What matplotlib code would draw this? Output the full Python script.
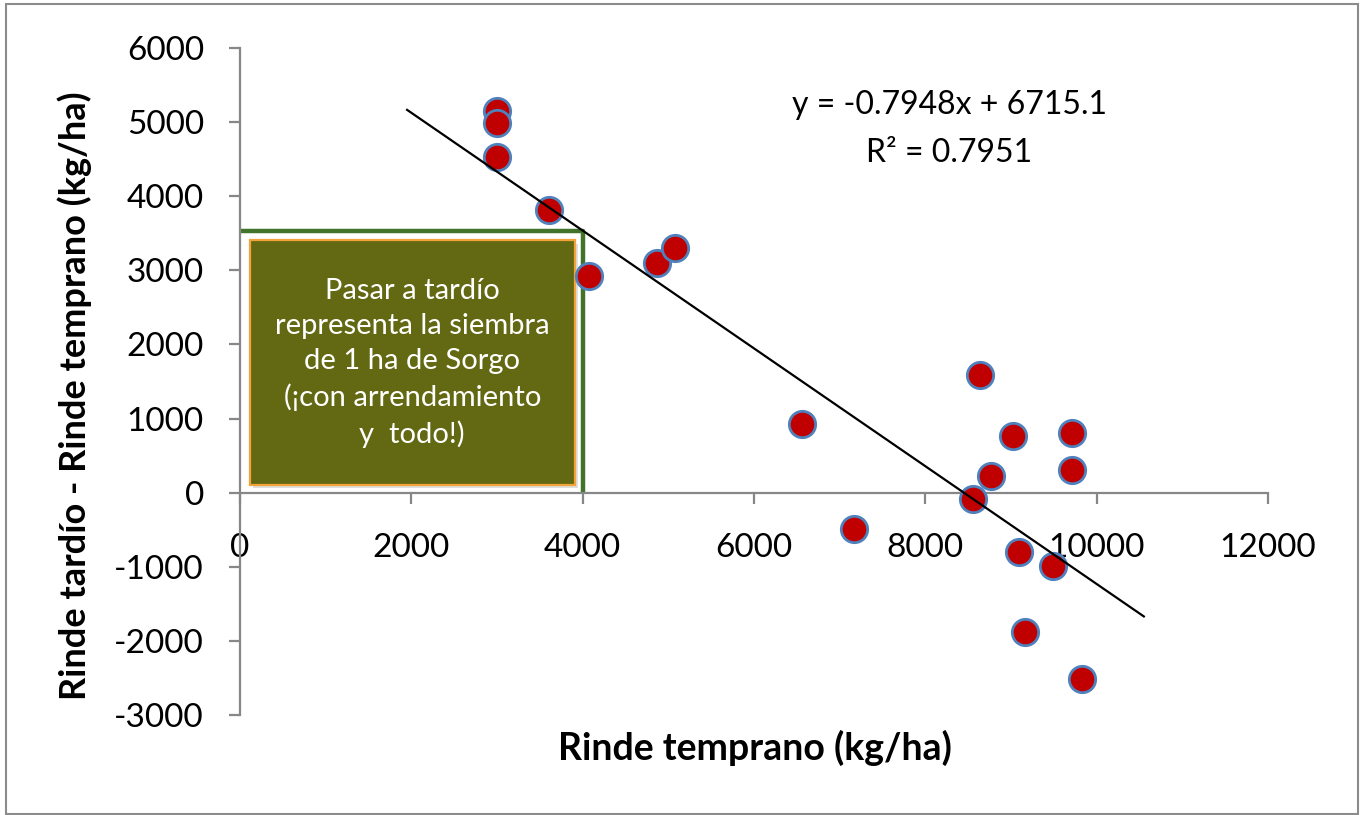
import matplotlib
matplotlib.use('Agg')
import matplotlib.pyplot as plt
from matplotlib.patches import Rectangle
import numpy as np

plt.rcParams['font.family'] = ['Lato', 'DejaVu Sans']
plt.rcParams['axes.unicode_minus'] = False

# Rinde temprano (x) vs diferencia tardio - temprano (y), kg/ha
rinde_temprano = [3000, 3000, 3000, 3610, 4070, 4870, 5080, 6560, 7170,
                  8560, 8640, 8770, 9020, 9090, 9160, 9490, 9710, 9710, 9830]
diferencia = [5150, 4990, 4530, 3820, 2930, 3100, 3300, 930, -490,
              -90, 1590, 220, 760, -800, -1880, -990, 810, 300, -2510]

# trend line from Excel
pendiente = -0.7948
ordenada = 6715.1
r2 = 0.7951
tramo_x = [1950, 10550]

x_ticks = [0, 2000, 4000, 6000, 8000, 10000, 12000]
y_ticks = [-3000, -2000, -1000, 0, 1000, 2000, 3000, 4000, 5000, 6000]

fig = plt.figure(figsize=(13.6, 8.15), dpi=100)
ax = fig.add_axes([0.1765, 0.1227, 0.7559, 0.8184])

axis_grey = '#878787'

# green frame + text box
ax.plot([0, 4000, 4000], [3530, 3530, 0], color='#41742A', lw=3.2,
        solid_capstyle='butt', zorder=2)
ax.add_patch(Rectangle((150, 60), 3800, 3300, facecolor='#C8C8C8',
                       edgecolor='none', alpha=0.6, zorder=2))
ax.add_patch(Rectangle((115, 105), 3800, 3300, facecolor='#636912',
                       edgecolor='#F2A33A', lw=1.6, zorder=3))
ax.text(2010, 1745, 'Pasar a tardío\nrepresenta la siembra\nde 1 ha de Sorgo\n'
        '(¡con arrendamiento\ny  todo!)', color='white', fontsize=21,
        ha='center', va='center', linespacing=1.42, zorder=4)

ax.scatter(rinde_temprano, diferencia, s=360, color='#C00000',
           edgecolors='#4F81BD', linewidths=2.0, zorder=5)

tx = np.array(tramo_x)
ax.plot(tx, pendiente * tx + ordenada, color='black', lw=1.6, zorder=6)

ax.text(0.69, 0.915, 'y = %.4fx + %.1f' % (pendiente, ordenada),
        transform=ax.transAxes, ha='center', va='center', fontsize=23)
ax.text(0.69, 0.843, 'R² = %.4f' % r2,
        transform=ax.transAxes, ha='center', va='center', fontsize=23)

ax.set_xlim(0, 12000)
ax.set_ylim(-3000, 6000)
ax.set_xticks(x_ticks)
ax.set_yticks(y_ticks)
ax.spines['left'].set_position(('data', 0))
ax.spines['bottom'].set_position(('data', 0))
ax.spines['top'].set_visible(False)
ax.spines['right'].set_visible(False)
for s in ('left', 'bottom'):
    ax.spines[s].set_color(axis_grey)
    ax.spines[s].set_linewidth(1.6)
ax.tick_params(axis='both', direction='out', length=8, width=1.6,
               color=axis_grey, labelsize=24)
ax.tick_params(axis='x', pad=21)
ax.tick_params(axis='y', pad=18)

fig.text(0.055, 0.515, 'Rinde tardío - Rinde temprano (kg/ha)', rotation=90,
         ha='center', va='center', fontsize=26, fontweight='bold')
fig.text(0.555, 0.082, 'Rinde temprano (kg/ha)', ha='center', va='center',
         fontsize=27, fontweight='bold')

fig.patches.append(Rectangle((6 / 1360, 1 / 815), 1352 / 1360, 810 / 815,
                             transform=fig.transFigure, fill=False,
                             edgecolor='#8C8C8C', lw=1.5))

fig.savefig('out.png', dpi=100)
